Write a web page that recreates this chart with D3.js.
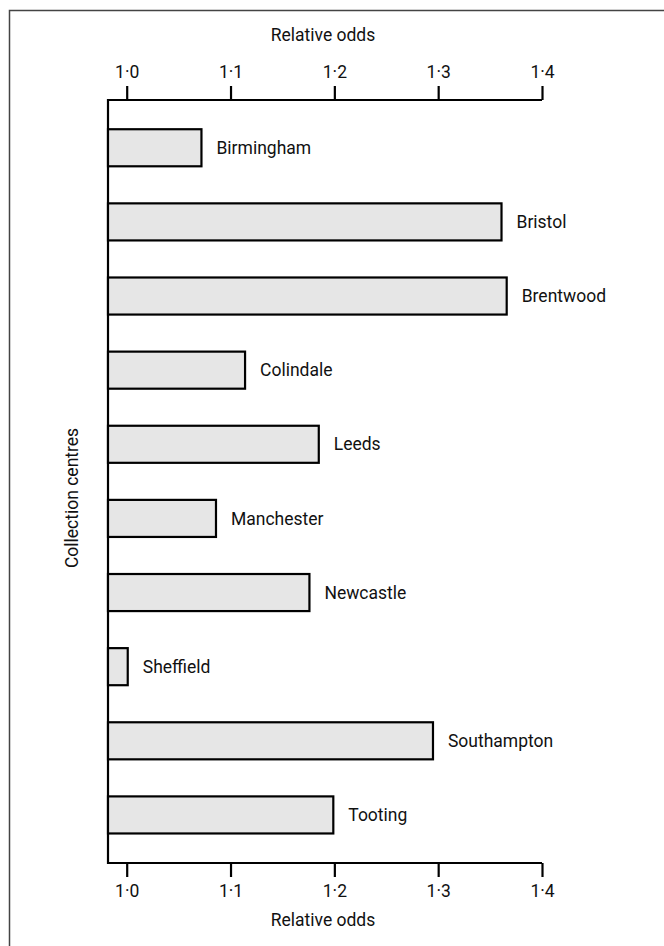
<!DOCTYPE html>
<html>
<head>
<meta charset="utf-8">
<script src="https://cdn.jsdelivr.net/npm/d3@7"></script>
<style>
  html, body { margin: 0; padding: 0; background: #fff; }
  svg { display: block; }
  text { font-family: Roboto, "Open Sans", sans-serif; fill: #111; }
</style>
</head>
<body>
<svg id="chart" width="664" height="946"></svg>
<script>
// Relative odds by collection centre
const centres = ["Birmingham", "Bristol", "Brentwood", "Colindale", "Leeds",
                 "Manchester", "Newcastle", "Sheffield", "Southampton", "Tooting"];
const relativeOdds = [1.072, 1.361, 1.366, 1.114, 1.185, 1.086, 1.176, 1.001, 1.295, 1.199];
const tickValues = [1.0, 1.1, 1.2, 1.3, 1.4];
const tickLabels = ["1·0", "1·1", "1·2", "1·3", "1·4"];
const axisTitle = "Relative odds";
const centreTitle = "Collection centres";

const data = centres.map((c, i) => ({ centre: c, value: relativeOdds[i] }));

const svg = d3.select("#chart");
const fontSize = 17.5;

// outer frame (runs off the right and bottom edges)
svg.append("rect")
  .attr("x", 9.5).attr("y", 10.5)
  .attr("width", 800).attr("height", 1000)
  .attr("fill", "none").attr("stroke", "#444").attr("stroke-width", 1.5);

const plotLeft = 108, plotTop = 100, plotBottom = 863;
const x = d3.scaleLinear().domain([1.0, 1.4]).range([126.7, 542]);
const xMin = x.invert(plotLeft);

const y = d3.scaleBand()
  .domain(centres)
  .range([110.7, 852])
  .paddingInner(0.5)
  .paddingOuter(0.25);

const tickFmt = d => tickLabels[tickValues.indexOf(d)];

// top axis
const topAxis = svg.append("g")
  .attr("transform", `translate(0,${plotTop})`)
  .call(d3.axisTop(x).tickValues(tickValues).tickFormat(tickFmt)
          .tickSize(14).tickSizeOuter(0).tickPadding(8));
// bottom axis
const bottomAxis = svg.append("g")
  .attr("transform", `translate(0,${plotBottom})`)
  .call(d3.axisBottom(x).tickValues(tickValues).tickFormat(tickFmt)
          .tickSize(14).tickSizeOuter(0).tickPadding(8));

[topAxis, bottomAxis].forEach(g => {
  g.select(".domain").remove();
  g.append("line")
    .attr("x1", plotLeft).attr("x2", x(1.4))
    .attr("stroke", "#000").attr("stroke-width", 2.2);
  g.selectAll(".tick line").attr("stroke", "#000").attr("stroke-width", 2.2);
  g.selectAll(".tick text")
    .attr("font-family", null)
    .attr("font-size", fontSize).attr("fill", "#111");
});

// left axis line
svg.append("line")
  .attr("x1", plotLeft).attr("x2", plotLeft)
  .attr("y1", plotTop - 1).attr("y2", plotBottom + 1)
  .attr("stroke", "#000").attr("stroke-width", 2.2);

// bars
svg.append("g").selectAll("rect")
  .data(data)
  .join("rect")
  .attr("x", x(xMin))
  .attr("y", d => y(d.centre))
  .attr("width", d => x(d.value) - x(xMin))
  .attr("height", y.bandwidth())
  .attr("fill", "#e6e6e6")
  .attr("stroke", "#000")
  .attr("stroke-width", 2.2);

// bar labels
svg.append("g").selectAll("text")
  .data(data)
  .join("text")
  .attr("x", d => x(d.value) + 15)
  .attr("y", d => y(d.centre) + y.bandwidth() / 2)
  .attr("dy", "0.35em")
  .attr("font-size", fontSize)
  .text(d => d.centre);

// axis titles
const titleX = 323;
svg.append("text")
  .attr("x", titleX).attr("y", 35).attr("dy", "0.35em")
  .attr("text-anchor", "middle").attr("font-size", fontSize)
  .text(axisTitle);
svg.append("text")
  .attr("x", titleX).attr("y", 920).attr("dy", "0.35em")
  .attr("text-anchor", "middle").attr("font-size", fontSize)
  .text(axisTitle);
svg.append("text")
  .attr("transform", "translate(72,498) rotate(-90)")
  .attr("dy", "0.35em")
  .attr("text-anchor", "middle").attr("font-size", fontSize)
  .text(centreTitle);
</script>
</body>
</html>
